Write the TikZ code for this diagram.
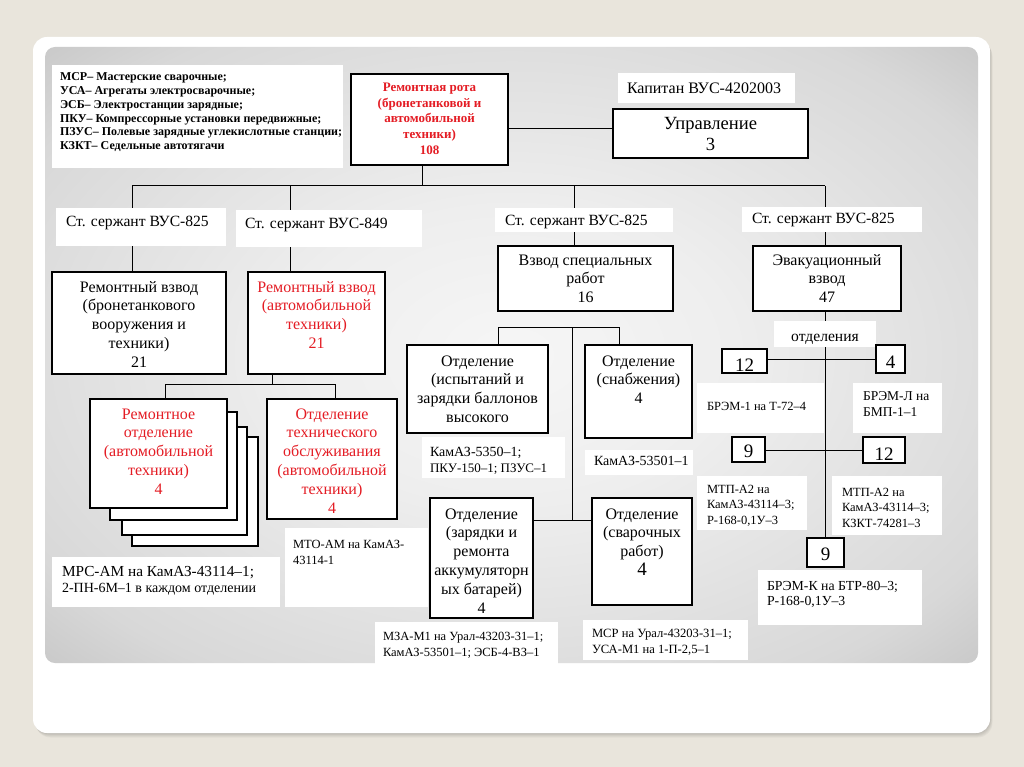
\documentclass[tikz,border=0pt]{standalone}
\usepackage{fontspec}
\setmainfont{Liberation Serif}
\definecolor{bgbeige}{RGB}{233,229,220}
\definecolor{rred}{RGB}{228,28,36}
\definecolor{pnlA}{RGB}{246,246,246}
\definecolor{pnlB}{RGB}{238,238,238}
\definecolor{pnlC}{RGB}{216,216,216}
\definecolor{pnlD}{RGB}{162,162,162}
\definecolor{pnlE}{RGB}{138,138,138}
\pgfdeclareradialshading{panelshade}{\pgfpoint{0bp}{0bp}}{color(0bp)=(pnlA); color(12bp)=(pnlB); color(30bp)=(pnlC); color(50bp)=(pnlD); color(72bp)=(pnlE)}
\pgfdeclarelayer{back}
\pgfdeclarelayer{lines}
\pgfsetlayers{back,lines,main}
% font, width, height, top pad, content
\newcommand\cbx[5]{\parbox[c][#3pt][t]{#2pt}{#1\centering\vspace*{#4pt}\strut#5}}
% font, width, height, left pad, top pad, content
\newcommand\lbx[6]{\parbox[c][#3pt][t]{#2pt}{#1\raggedright\leftskip=#4pt\relax\vspace*{#5pt}\strut#6}}
\newcommand\fm{\fontsize{16}{18.8}\selectfont}
\newcommand\fs{\fontsize{15.6}{18.6}\selectfont}
\newcommand\fno{\fontsize{12.5}{15.5}\selectfont}
\newcommand\fnum{\fontsize{19}{22}\selectfont}
\begin{document}
\begin{tikzpicture}[x=1pt,y=-1pt,
  box/.style={draw=black,line width=1.1pt,fill=white,inner sep=0pt},
  note/.style={fill=white,inner sep=0pt},
  conn/.style={draw=black,line width=1pt}]
\useasboundingbox (0,0) rectangle (1024,767);
\begin{pgfonlayer}{back}
\fill[bgbeige] (0,0) rectangle (1024,767);
\foreach \i in {1,...,5}
  \fill[black,opacity=0.035,rounded corners=15pt] (33+\i*0.5,37+\i*0.9) rectangle (990+\i*0.5,733+\i*0.9);
\fill[white,rounded corners=14pt] (33,37) rectangle (990,733);
\shade[shading=panelshade,rounded corners=10pt] (45,47) rectangle (978,663);
\end{pgfonlayer}

% legend
\node[note] (legend) at (197.5,116.5) {\lbx{\fontsize{12}{13.8}\selectfont\bfseries}{291}{103}{8}{6.0}{МСР– Мастерские сварочные;\\УСА– Агрегаты электросварочные;\\ЭСБ– Электростанции зарядные;\\ПКУ– Компрессорные установки передвижные;\\ПЗУС– Полевые зарядные углекислотные станции;\\КЗКТ– Седельные автотягачи}};

% top
\node[box,text=rred] (rota) at (429.5,119.5) {\cbx{\fontsize{13}{15.8}\selectfont\bfseries}{157}{91}{6.2}{Ремонтная рота\\(бронетанковой и\\автомобильной\\техники)\\108}};
\node[note] (kap) at (706.5,88) {\lbx{\fontsize{16}{19}\selectfont}{177}{30}{9}{7.7}{Капитан ВУС-4202003}};
\node[box] (upr) at (710.5,133.5) {\cbx{\fontsize{18.6}{21}\selectfont}{195}{49}{5.8}{Управление\\3}};

% sergeants
\node[note] (sg1) at (141,227) {\lbx{\fs}{170}{38}{10}{5.8}{Ст. сержант ВУС-825}};
\node[note] (sg2) at (329,228.5) {\lbx{\fs}{186}{37}{9}{5.8}{Ст. сержант ВУС-849}};
\node[note] (sg3) at (584,220) {\lbx{\fs}{178}{24}{10}{4.8}{Ст. сержант ВУС-825}};
\node[note] (sg4) at (832,219.5) {\lbx{\fs}{180}{25}{10}{3.8}{Ст. сержант ВУС-825}};

% platoons
\node[box] (rv1) at (139,323) {\cbx{\fm}{174}{102}{7}{Ремонтный взвод\\(бронетанкового\\вооружения и\\техники)\\21}};
\node[box,text=rred] (rv2) at (316.5,323) {\cbx{\fm}{137}{102}{7}{Ремонтный взвод\\(автомобильной\\техники)\\21}};
\node[box] (vsr) at (585.5,278.5) {\cbx{\fm}{175}{65}{6}{Взвод специальных\\работ\\16}};
\node[box] (evak) at (827,278.5) {\cbx{\fm}{148}{65}{6}{Эвакуационный\\взвод\\47}};

% evacuation platoon
\node[note] (otd) at (825,334) {\cbx{\fs}{102}{26}{7}{отделения}};
\node[box] (n12a) at (744.5,361) {\cbx{\fnum}{45}{24}{6.6}{12}};
\node[box] (n4) at (890.5,359) {\cbx{\fnum}{29}{28}{7.6}{4}};
\node[note] (brem1) at (760.5,408) {\lbx{\fno}{127}{50}{10}{16.7}{БРЭМ-1 на Т-72–4}};
\node[note] (breml) at (897.5,408) {\lbx{\fontsize{13.5}{16}\selectfont}{89}{50}{10}{6.2}{БРЭМ-Л на\\БМП-1–1}};
\node[box] (n9a) at (748.5,449.5) {\cbx{\fnum}{33}{25}{4.6}{9}};
\node[box] (n12b) at (884,450) {\cbx{\fnum}{42}{26}{7.6}{12}};
\node[note] (mtp1) at (752,503) {\lbx{\fno}{110}{54}{10}{6.6}{МТП-А2 на\\КамАЗ-43114–3;\\Р-168-0,1У–3}};
\node[note] (mtp2) at (887,505.5) {\lbx{\fno}{110}{59}{10}{9.6}{МТП-А2 на\\КамАЗ-43114–3;\\КЗКТ-74281–3}};
\node[box] (n9b) at (825.5,552.5) {\cbx{\fnum}{37}{29}{6.6}{9}};
\node[note] (bremk) at (840,597.5) {\lbx{\fontsize{13.8}{15.5}\selectfont}{164}{55}{9}{9.2}{БРЭМ-К на БТР-80–3;\\Р-168-0,1У–3}};

% special works platoon
\node[box] (isp) at (477.5,389) {\cbx{\fm}{141}{88}{8}{Отделение\\(испытаний и\\зарядки баллонов\\высокого}};
\node[box] (snab) at (638.5,391.5) {\cbx{\fm}{107}{93}{8}{Отделение\\(снабжения)\\4}};
\node[note] (kamaz1) at (493.5,457.5) {\lbx{\fontsize{13.5}{15.5}\selectfont}{143}{41}{8}{9.0}{\fontsize{14}{15.5}\selectfont КамАЗ-5350–1;\\\fontsize{13}{15.5}\selectfont ПКУ-150–1; ПЗУС–1}};
\node[note] (kamaz2) at (639,462.5) {\lbx{\fontsize{14}{15.5}\selectfont}{108}{25}{9}{4.4}{КамАЗ-53501–1}};
\node[box] (zar) at (481.5,558) {\cbx{\fm}{103}{120}{8}{Отделение\\(зарядки и\\ремонта\\аккумуляторн\\ых батарей)\\4}};
\node[box] (svar) at (642,551.5) {\cbx{\fm}{100}{107}{8}{Отделение\\(сварочных\\работ)\\{\fnum 4}}};
\node[note] (mza) at (466.5,644.5) {\lbx{\fontsize{12.5}{16}\selectfont}{183}{45}{8}{7.6}{МЗА-М1 на Урал-43203-31–1;\\КамАЗ-53501–1; ЭСБ-4-ВЗ–1}};
\node[note] (msr) at (665.5,640) {\lbx{\fontsize{12.6}{16}\selectfont}{165}{40}{9}{6.6}{МСР на Урал-43203-31–1;\\УСА-М1 на 1-П-2,5–1}};

% auto repair platoon
\node[box,minimum width=126pt,minimum height=109pt] (s4) at (195,491.5) {};
\node[box,minimum width=125pt,minimum height=108pt] (s3) at (184.5,481) {};
\node[box,minimum width=127pt,minimum height=108pt] (s2) at (173.5,466) {};
\node[box,text=rred] (front) at (158.5,453.5) {\cbx{\fm}{137}{109}{7}{Ремонтное\\отделение\\(автомобильной\\техники)\\4}};
\node[box,text=rred] (tob) at (332,459) {\cbx{\fm}{130}{120}{7}{Отделение\\технического\\обслуживания\\(автомобильной\\техники)\\4}};
\node[note] (mrs) at (166,582) {\lbx{\fontsize{14.5}{15.8}\selectfont}{228}{50}{10}{8.4}{\fontsize{15.3}{15.8}\selectfont МРС-АМ на КамАЗ-43114–1;\\\fontsize{14}{15.8}\selectfont 2-ПН-6М–1 в каждом отделении}};
\node[note] (mto) at (356.5,567.5) {\lbx{\fno}{143}{79}{8}{10}{МТО-АМ на КамАЗ-\\43114-1}};

\begin{pgfonlayer}{lines}
\draw[conn] ([yshift=4.5pt]upr.west) -- ([yshift=4.5pt]upr.west -| rota.east);
\coordinate (hL) at (132,186);
\coordinate (hR) at (825,186);
\coordinate (hM) at (422,186);
\coordinate (h2) at (290,186);
\coordinate (h3) at (574,186);
\draw[conn] (hM |- rota.south) -- (hM);
\draw[conn] (hL) -- (hR);
\draw[conn] (hL) -- (hL |- rv1.north);
\draw[conn] (h2) -- (h2 |- rv2.north);
\draw[conn] (h3) -- (h3 |- vsr.north);
\draw[conn] (hR) -- (hR |- evak.north);
\draw[conn] (hR |- evak.south) -- (hR |- n9b.north);
\draw[conn] (n4.west) -- (n4.west -| n12a.east);
\draw[conn] (n12b.west) -- (n12b.west -| n9a.east);
\coordinate (mL) at (498,327);
\coordinate (mR) at (619,327);
\coordinate (mC) at (572,327);
\coordinate (mB) at (572,520);
\draw[conn] (mL) -- (mR);
\draw[conn] (mL) -- (mL |- isp.north);
\draw[conn] (mR) -- (mR |- snab.north);
\draw[conn] (mC) -- (mB);
\draw[conn] (zar.east |- mB) -- (svar.west |- mB);
\coordinate (lM) at (272,384);
\coordinate (lL) at (165,384);
\coordinate (lR) at (335,384);
\draw[conn] (lM |- rv2.south) -- (lM);
\draw[conn] (lL) -- (lR);
\draw[conn] (lL) -- (lL |- front.north);
\draw[conn] (lR) -- (lR |- tob.north);
\end{pgfonlayer}
\end{tikzpicture}
\end{document}
